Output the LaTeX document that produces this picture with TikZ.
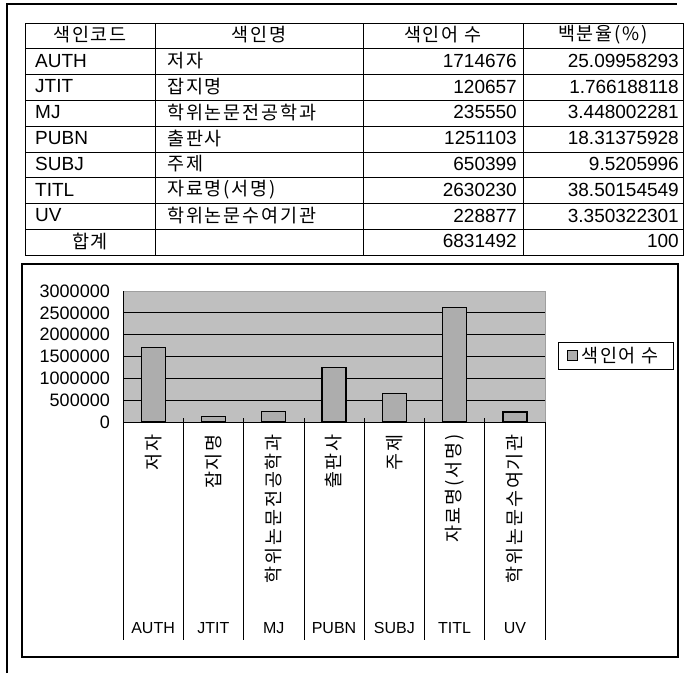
\documentclass[tikz,border=0pt]{standalone}
\usepackage{fontspec}
\setmainfont{Liberation Sans}
\newfontfamily\kr[LetterSpace=10]{Noto Sans CJK KR}
\usetikzlibrary{calc}

\begin{document}
\begin{tikzpicture}[x=1pt,y=-1pt,
  num/.style={inner sep=0pt,anchor=east,font=\fontsize{19}{19}\selectfont},
  code/.style={inner sep=0pt,anchor=west,font=\fontsize{19}{19}\selectfont},
  kor/.style={inner sep=0pt,font=\fontsize{18.5}{18.5}\selectfont\kr},
  ylab/.style={inner sep=0pt,anchor=east,font=\fontsize{18}{18}\selectfont},
  xlab/.style={inner sep=0pt,font=\fontsize{16}{16}\selectfont},
  vlab/.style={inner sep=0pt,anchor=east,rotate=90,font=\fontsize{18.5}{18.5}\selectfont\kr},
  bar/.style={fill=gray!64,draw=black,line width=1.2pt}]
\useasboundingbox (0,0) rectangle (687,673);
\fill[white] (0,0) rectangle (687,673);
\draw[line width=1.2pt] (7,673) -- (7,4) -- (677,4);
\draw[line width=1pt] (25,23) rectangle (683,255.2);
\draw[line width=0.8pt] (25,48.8) -- (683,48.8);
\draw[line width=0.8pt] (25,74.6) -- (683,74.6);
\draw[line width=0.8pt] (25,100.4) -- (683,100.4);
\draw[line width=0.8pt] (25,126.2) -- (683,126.2);
\draw[line width=0.8pt] (25,152) -- (683,152);
\draw[line width=0.8pt] (25,177.8) -- (683,177.8);
\draw[line width=0.8pt] (25,203.6) -- (683,203.6);
\draw[line width=0.8pt] (25,229.4) -- (683,229.4);
\draw[line width=0.8pt] (155,23) -- (155,255.2);
\draw[line width=0.8pt] (363,23) -- (363,255.2);
\draw[line width=0.8pt] (523,23) -- (523,255.2);
\node[kor] (h1) at (90,34.9) {색인코드};
\node[kor] (h2) at (259,34.9) {색인명};
\node[kor] (h3) at (443,34.9) {색인어 수};
\node[kor] (h4) at (603,34.9) {백분율(\%)};
\node[code] (c1) at (35,60.7) {AUTH};
\node[code] (c2) at (35,86.5) {JTIT};
\node[code] (c3) at (35,112.3) {MJ};
\node[code] (c4) at (35,138.1) {PUBN};
\node[code] (c5) at (35,163.9) {SUBJ};
\node[code] (c6) at (35,189.7) {TITL};
\node[code] (c7) at (35,215.5) {UV};
\node[kor] (c8) at (90,241.3) {합계};
\node[kor,anchor=west] (n1) at (167,60.7) {저자};
\node[kor,anchor=west] (n2) at (167,86.5) {잡지명};
\node[kor,anchor=west] (n3) at (167,112.3) {학위논문전공학과};
\node[kor,anchor=west] (n4) at (167,138.1) {출판사};
\node[kor,anchor=west] (n5) at (167,163.9) {주제};
\node[kor,anchor=west] (n6) at (167,189.7) {자료명(서명)};
\node[kor,anchor=west] (n7) at (167,215.5) {학위논문수여기관};
\node[num] (v1) at (517,60.7) {1714676};
\node[num] (v2) at (517,86.5) {120657};
\node[num] (v3) at (517,112.3) {235550};
\node[num] (v4) at (517,138.1) {1251103};
\node[num] (v5) at (517,163.9) {650399};
\node[num] (v6) at (517,189.7) {2630230};
\node[num] (v7) at (517,215.5) {228877};
\node[num] (v8) at (517,241.3) {6831492};
\node[num] (p1) at (679,60.7) {25.09958293};
\node[num] (p2) at (679,86.5) {1.766188118};
\node[num] (p3) at (679,112.3) {3.448002281};
\node[num] (p4) at (679,138.1) {18.31375928};
\node[num] (p5) at (679,163.9) {9.5205996};
\node[num] (p6) at (679,189.7) {38.50154549};
\node[num] (p7) at (679,215.5) {3.350322301};
\node[num] (p8) at (679,241.3) {100};
\draw[line width=1.5pt] (22,264) rectangle (678,657);
\fill[gray!50] (123,291) rectangle (545,422);
\draw[line width=0.8pt] (123,312.8) -- (545,312.8);
\draw[line width=0.8pt] (123,334.7) -- (545,334.7);
\draw[line width=0.8pt] (123,356.5) -- (545,356.5);
\draw[line width=0.8pt] (123,378.3) -- (545,378.3);
\draw[line width=0.8pt] (123,400.2) -- (545,400.2);
\draw[gray!75,line width=0.8pt] (123,291) -- (545,291) -- (545,422);
\draw[bar] (141.1,422) rectangle (165.1,347.1);
\draw[bar] (201.4,422) rectangle (225.4,416.7);
\draw[bar] (261.7,422) rectangle (285.7,411.7);
\draw[bar] (322.0,422) rectangle (346.0,367.4);
\draw[bar] (382.3,422) rectangle (406.3,393.6);
\draw[bar] (442.6,422) rectangle (466.6,307.1);
\draw[bar] (502.9,422) rectangle (526.9,412.0);
\draw[line width=0.8pt] (123,291) -- (123,640);
\draw[line width=0.8pt] (123,422) -- (545,422);
\draw[line width=0.8pt] (183.3,418) -- (183.3,640);
\draw[line width=0.8pt] (243.6,418) -- (243.6,640);
\draw[line width=0.8pt] (303.9,418) -- (303.9,640);
\draw[line width=0.8pt] (364.1,418) -- (364.1,640);
\draw[line width=0.8pt] (424.4,418) -- (424.4,640);
\draw[line width=0.8pt] (484.7,418) -- (484.7,640);
\draw[line width=0.8pt] (545,422) -- (545,640);
\node[ylab] (y6) at (110,291) {3000000};
\node[ylab] (y5) at (110,312.8) {2500000};
\node[ylab] (y4) at (110,334.7) {2000000};
\node[ylab] (y3) at (110,356.5) {1500000};
\node[ylab] (y2) at (110,378.3) {1000000};
\node[ylab] (y1) at (110,400.2) {500000};
\node[ylab] (y0) at (110,422) {0};
\node[vlab] (l1) at (153.1,434) {저자};
\node[vlab] (l2) at (213.4,434) {잡지명};
\node[vlab] (l3) at (273.7,434) {학위논문전공학과};
\node[vlab] (l4) at (334.0,434) {출판사};
\node[vlab] (l5) at (394.3,434) {주제};
\node[vlab] (l6) at (454.6,434) {자료명(서명)};
\node[vlab] (l7) at (514.9,434) {학위논문수여기관};
\node[xlab] (k1) at (153.1,628) {AUTH};
\node[xlab] (k2) at (213.4,628) {JTIT};
\node[xlab] (k3) at (273.7,628) {MJ};
\node[xlab] (k4) at (334.0,628) {PUBN};
\node[xlab] (k5) at (394.3,628) {SUBJ};
\node[xlab] (k6) at (454.6,628) {TITL};
\node[xlab] (k7) at (514.9,628) {UV};
\draw[line width=1pt] (558,342) rectangle (673,369);
\draw[fill=gray!64,line width=0.8pt] (567,350) rectangle (577,360);
\node[kor,anchor=west] (leg) at (581,355.5) {색인어 수};
\end{tikzpicture}
\end{document}
